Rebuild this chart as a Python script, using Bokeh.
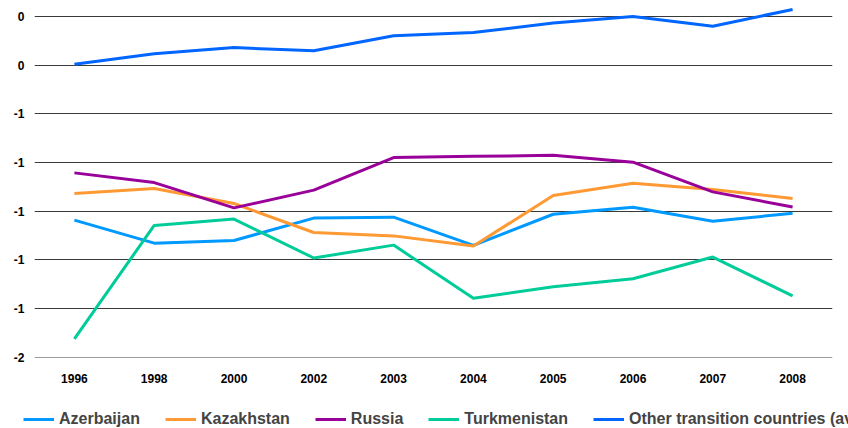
from bokeh.plotting import figure
from bokeh.layouts import column
from bokeh.models import Legend, LegendItem, FixedTicker, CustomJSTickFormatter, Range1d
from bokeh.embed import file_html
from bokeh.resources import INLINE

years = ["1996", "1998", "2000", "2002", "2003", "2004", "2005", "2006", "2007", "2008"]
azerbaijan = [-1.037, -1.132, -1.121, -1.029, -1.025, -1.141, -1.013, -0.984, -1.042, -1.009]
kazakhstan = [-0.928, -0.907, -0.969, -1.088, -1.102, -1.144, -0.936, -0.886, -0.911, -0.948]
russia = [-0.843, -0.883, -0.987, -0.914, -0.780, -0.775, -0.771, -0.799, -0.921, -0.983]
turkmenistan = [-1.525, -1.059, -1.033, -1.193, -1.140, -1.358, -1.311, -1.278, -1.189, -1.349]
other = [-0.396, -0.353, -0.328, -0.341, -0.279, -0.266, -0.227, -0.200, -0.240, -0.171]
y_ticks = [-1.6, -1.4, -1.2, -1.0, -0.8, -0.6, -0.4, -0.2]

series = [
    ("Azerbaijan", azerbaijan, "#0099FF"),
    ("Kazakhstan", kazakhstan, "#FF9933"),
    ("Russia", russia, "#990099"),
    ("Turkmenistan", turkmenistan, "#00CC99"),
    ("Other transition countries (average)", other, "#0066FF"),
]

p = figure(width=848, height=400, x_range=years, y_range=Range1d(-1.602, -0.1343),
           output_backend="svg", toolbar_location=None,
           min_border_left=34, min_border_right=16, min_border_top=0, min_border_bottom=43)
p.outline_line_color = None
p.xgrid.grid_line_color = None
p.ygrid.grid_line_color = "#3a3a3a"
p.ygrid.grid_line_width = 1
p.yaxis.ticker = FixedTicker(ticks=y_ticks)
p.yaxis.formatter = CustomJSTickFormatter(code="return String(Math.round(tick) + 0);")

for ax in (p.xaxis[0], p.yaxis[0]):
    ax.axis_line_color = None
    ax.major_tick_line_color = None
    ax.minor_tick_line_color = None
    ax.major_label_text_font = "Liberation Sans"
    ax.major_label_text_font_style = "bold"
    ax.major_label_text_font_size = "12px"
    ax.major_label_text_color = "#000000"
p.xaxis.major_label_standoff = 10
p.yaxis.major_label_standoff = 4

for name, vals, color in series:
    p.line(years, vals, line_color=color, line_width=3)

# legend strip below the chart
q = figure(width=848, height=28, x_range=years, y_range=Range1d(10, 11),
           output_backend="svg", toolbar_location=None,
           x_axis_location=None, y_axis_location=None,
           min_border_left=0, min_border_right=0, min_border_top=0, min_border_bottom=0)
q.frame_align = False
q.outline_line_color = None
q.xgrid.grid_line_color = None
q.ygrid.grid_line_color = None
items = []
for name, vals, color in series:
    r = q.line(years, vals, line_color=color, line_width=3)
    items.append(LegendItem(label=name, renderers=[r]))

legend = Legend(items=items, orientation="horizontal", location=(23, 0),
                glyph_width=31, glyph_height=16, label_height=16,
                label_text_font="Liberation Sans", label_text_font_style="bold",
                label_text_font_size="16px", label_standoff=5, spacing=25,
                padding=0, margin=0, border_line_color=None, background_fill_alpha=0)
q.add_layout(legend, "center")

layout = column(p, q, spacing=0)
open("out.html", "w").write(file_html(layout, INLINE))
